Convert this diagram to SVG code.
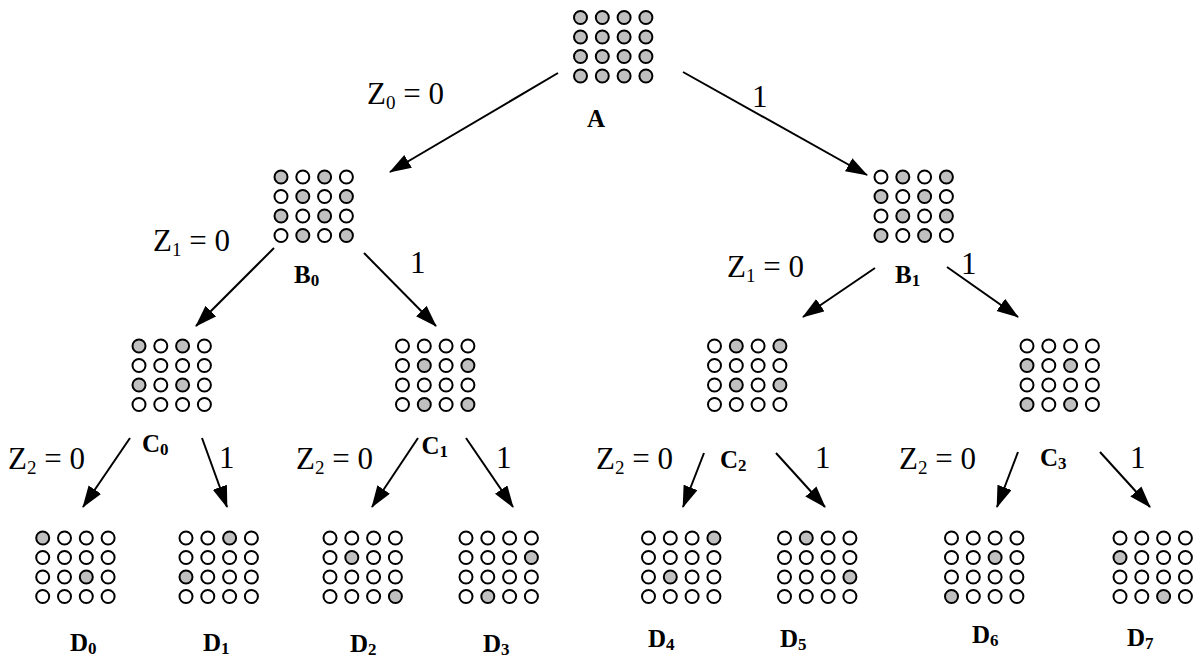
<svg xmlns="http://www.w3.org/2000/svg" width="1197" height="658" viewBox="0 0 1197 658">
<style>
.w{fill:#ffffff;stroke:#000;stroke-width:2}
.g{fill:#c0c0c0;stroke:#000;stroke-width:2}
.nl{font-family:"Liberation Serif","Times New Roman",serif;font-weight:bold;font-size:25px;fill:#000}
.nl .s{font-size:17px}
.el{font-family:"Liberation Serif","Times New Roman",serif;font-size:31px;fill:#000}
.el .s{font-size:19px}
.cn line{stroke:#000;stroke-width:2;marker-end:url(#ah)}
</style>
<defs>
<marker id="ah" markerUnits="userSpaceOnUse" markerWidth="24" markerHeight="16" refX="21" refY="7.5" orient="auto">
<path d="M0,0 L22,7.5 L0,15 Z" fill="#000"/>
</marker>
<circle id="cw" r="6.5" class="w"/>
<circle id="cg" r="6.5" class="g"/>
</defs>
<rect width="1197" height="658" fill="#fff"/>

<g id="connectors" class="cn">
<line x1="558" y1="73" x2="390" y2="172"/>
<line x1="683" y1="72" x2="867" y2="175"/>
<line x1="274" y1="248" x2="196" y2="326"/>
<line x1="364" y1="253" x2="436" y2="326"/>
<line x1="875" y1="268" x2="803" y2="317"/>
<line x1="947" y1="267" x2="1018" y2="317"/>
<line x1="130" y1="438" x2="83" y2="507"/>
<line x1="202" y1="438" x2="227" y2="507"/>
<line x1="418" y1="438" x2="372" y2="507"/>
<line x1="466" y1="438" x2="513" y2="507"/>
<line x1="704" y1="453" x2="683" y2="507"/>
<line x1="776" y1="453" x2="825" y2="507"/>
<line x1="1018" y1="452" x2="997" y2="507"/>
<line x1="1100" y1="452" x2="1150" y2="507"/>
</g>

<g id="edge-labels">
<text class="el" x="367" y="104">Z<tspan class="s" dy="5">0</tspan><tspan dy="-5"> = 0</tspan></text>
<text class="el" x="752" y="107">1</text>
<text class="el" x="153" y="251">Z<tspan class="s" dy="5">1</tspan><tspan dy="-5"> = 0</tspan></text>
<text class="el" x="410" y="273">1</text>
<text class="el" x="727" y="277">Z<tspan class="s" dy="5">1</tspan><tspan dy="-5"> = 0</tspan></text>
<text class="el" x="961" y="274">1</text>
<text class="el" x="8" y="469">Z<tspan class="s" dy="5">2</tspan><tspan dy="-5"> = 0</tspan></text>
<text class="el" x="296" y="469">Z<tspan class="s" dy="5">2</tspan><tspan dy="-5"> = 0</tspan></text>
<text class="el" x="596" y="469">Z<tspan class="s" dy="5">2</tspan><tspan dy="-5"> = 0</tspan></text>
<text class="el" x="899" y="469">Z<tspan class="s" dy="5">2</tspan><tspan dy="-5"> = 0</tspan></text>
<text class="el" x="219" y="468">1</text>
<text class="el" x="496" y="468">1</text>
<text class="el" x="815" y="468">1</text>
<text class="el" x="1130" y="468">1</text>
</g>

<g id="A" transform="translate(580.5,17.5)">
<use href="#cg" x="0" y="0"/><use href="#cg" x="21.8" y="0"/><use href="#cg" x="43.6" y="0"/><use href="#cg" x="65.4" y="0"/>
<use href="#cg" x="0" y="19.5"/><use href="#cg" x="21.8" y="19.5"/><use href="#cg" x="43.6" y="19.5"/><use href="#cg" x="65.4" y="19.5"/>
<use href="#cg" x="0" y="39"/><use href="#cg" x="21.8" y="39"/><use href="#cg" x="43.6" y="39"/><use href="#cg" x="65.4" y="39"/>
<use href="#cg" x="0" y="58.5"/><use href="#cg" x="21.8" y="58.5"/><use href="#cg" x="43.6" y="58.5"/><use href="#cg" x="65.4" y="58.5"/>
<text class="nl" x="15.5" y="109.5" text-anchor="middle">A</text>
</g>

<g id="B0" transform="translate(281,177)">
<use href="#cg" x="0" y="0"/><use href="#cw" x="21.8" y="0"/><use href="#cg" x="43.6" y="0"/><use href="#cw" x="65.4" y="0"/>
<use href="#cw" x="0" y="19.5"/><use href="#cg" x="21.8" y="19.5"/><use href="#cw" x="43.6" y="19.5"/><use href="#cg" x="65.4" y="19.5"/>
<use href="#cg" x="0" y="39"/><use href="#cw" x="21.8" y="39"/><use href="#cg" x="43.6" y="39"/><use href="#cw" x="65.4" y="39"/>
<use href="#cw" x="0" y="58.5"/><use href="#cg" x="21.8" y="58.5"/><use href="#cw" x="43.6" y="58.5"/><use href="#cg" x="65.4" y="58.5"/>
<text class="nl" x="13" y="106">B<tspan class="s" dy="3">0</tspan></text>
</g>

<g id="B1" transform="translate(881,177)">
<use href="#cw" x="0" y="0"/><use href="#cg" x="21.8" y="0"/><use href="#cw" x="43.6" y="0"/><use href="#cg" x="65.4" y="0"/>
<use href="#cg" x="0" y="19.5"/><use href="#cw" x="21.8" y="19.5"/><use href="#cg" x="43.6" y="19.5"/><use href="#cw" x="65.4" y="19.5"/>
<use href="#cw" x="0" y="39"/><use href="#cg" x="21.8" y="39"/><use href="#cw" x="43.6" y="39"/><use href="#cg" x="65.4" y="39"/>
<use href="#cg" x="0" y="58.5"/><use href="#cw" x="21.8" y="58.5"/><use href="#cg" x="43.6" y="58.5"/><use href="#cw" x="65.4" y="58.5"/>
<text class="nl" x="14" y="106">B<tspan class="s" dy="3">1</tspan></text>
</g>

<g id="C0" transform="translate(139,346)">
<use href="#cg" x="0" y="0"/><use href="#cw" x="21.8" y="0"/><use href="#cg" x="43.6" y="0"/><use href="#cw" x="65.4" y="0"/>
<use href="#cw" x="0" y="19.5"/><use href="#cw" x="21.8" y="19.5"/><use href="#cw" x="43.6" y="19.5"/><use href="#cw" x="65.4" y="19.5"/>
<use href="#cg" x="0" y="39"/><use href="#cw" x="21.8" y="39"/><use href="#cg" x="43.6" y="39"/><use href="#cw" x="65.4" y="39"/>
<use href="#cw" x="0" y="58.5"/><use href="#cw" x="21.8" y="58.5"/><use href="#cw" x="43.6" y="58.5"/><use href="#cw" x="65.4" y="58.5"/>
<text class="nl" x="3" y="106">C<tspan class="s" dy="3">0</tspan></text>
</g>

<g id="C1" transform="translate(402.5,346)">
<use href="#cw" x="0" y="0"/><use href="#cw" x="21.8" y="0"/><use href="#cw" x="43.6" y="0"/><use href="#cw" x="65.4" y="0"/>
<use href="#cw" x="0" y="19.5"/><use href="#cg" x="21.8" y="19.5"/><use href="#cw" x="43.6" y="19.5"/><use href="#cg" x="65.4" y="19.5"/>
<use href="#cw" x="0" y="39"/><use href="#cw" x="21.8" y="39"/><use href="#cw" x="43.6" y="39"/><use href="#cw" x="65.4" y="39"/>
<use href="#cw" x="0" y="58.5"/><use href="#cg" x="21.8" y="58.5"/><use href="#cw" x="43.6" y="58.5"/><use href="#cg" x="65.4" y="58.5"/>
<text class="nl" x="19" y="108">C<tspan class="s" dy="3">1</tspan></text>
</g>

<g id="C2" transform="translate(714.5,346)">
<use href="#cw" x="0" y="0"/><use href="#cg" x="21.8" y="0"/><use href="#cw" x="43.6" y="0"/><use href="#cg" x="65.4" y="0"/>
<use href="#cw" x="0" y="19.5"/><use href="#cw" x="21.8" y="19.5"/><use href="#cw" x="43.6" y="19.5"/><use href="#cw" x="65.4" y="19.5"/>
<use href="#cw" x="0" y="39"/><use href="#cg" x="21.8" y="39"/><use href="#cw" x="43.6" y="39"/><use href="#cg" x="65.4" y="39"/>
<use href="#cw" x="0" y="58.5"/><use href="#cw" x="21.8" y="58.5"/><use href="#cw" x="43.6" y="58.5"/><use href="#cw" x="65.4" y="58.5"/>
<text class="nl" x="5.5" y="122">C<tspan class="s" dy="3">2</tspan></text>
</g>

<g id="C3" transform="translate(1027,346)">
<use href="#cw" x="0" y="0"/><use href="#cw" x="21.8" y="0"/><use href="#cw" x="43.6" y="0"/><use href="#cw" x="65.4" y="0"/>
<use href="#cg" x="0" y="19.5"/><use href="#cw" x="21.8" y="19.5"/><use href="#cg" x="43.6" y="19.5"/><use href="#cw" x="65.4" y="19.5"/>
<use href="#cw" x="0" y="39"/><use href="#cw" x="21.8" y="39"/><use href="#cw" x="43.6" y="39"/><use href="#cw" x="65.4" y="39"/>
<use href="#cg" x="0" y="58.5"/><use href="#cw" x="21.8" y="58.5"/><use href="#cg" x="43.6" y="58.5"/><use href="#cw" x="65.4" y="58.5"/>
<text class="nl" x="13" y="120">C<tspan class="s" dy="3">3</tspan></text>
</g>

<g id="D0" transform="translate(42.7,538)">
<use href="#cg" x="0" y="0"/><use href="#cw" x="21.8" y="0"/><use href="#cw" x="43.6" y="0"/><use href="#cw" x="65.4" y="0"/>
<use href="#cw" x="0" y="19.5"/><use href="#cw" x="21.8" y="19.5"/><use href="#cw" x="43.6" y="19.5"/><use href="#cw" x="65.4" y="19.5"/>
<use href="#cw" x="0" y="39"/><use href="#cw" x="21.8" y="39"/><use href="#cg" x="43.6" y="39"/><use href="#cw" x="65.4" y="39"/>
<use href="#cw" x="0" y="58.5"/><use href="#cw" x="21.8" y="58.5"/><use href="#cw" x="43.6" y="58.5"/><use href="#cw" x="65.4" y="58.5"/>
<text class="nl" x="27.3" y="113">D<tspan class="s" dy="3">0</tspan></text>
</g>

<g id="D1" transform="translate(186,538)">
<use href="#cw" x="0" y="0"/><use href="#cw" x="21.8" y="0"/><use href="#cg" x="43.6" y="0"/><use href="#cw" x="65.4" y="0"/>
<use href="#cw" x="0" y="19.5"/><use href="#cw" x="21.8" y="19.5"/><use href="#cw" x="43.6" y="19.5"/><use href="#cw" x="65.4" y="19.5"/>
<use href="#cg" x="0" y="39"/><use href="#cw" x="21.8" y="39"/><use href="#cw" x="43.6" y="39"/><use href="#cw" x="65.4" y="39"/>
<use href="#cw" x="0" y="58.5"/><use href="#cw" x="21.8" y="58.5"/><use href="#cw" x="43.6" y="58.5"/><use href="#cw" x="65.4" y="58.5"/>
<text class="nl" x="17" y="113">D<tspan class="s" dy="3">1</tspan></text>
</g>

<g id="D2" transform="translate(330,538)">
<use href="#cw" x="0" y="0"/><use href="#cw" x="21.8" y="0"/><use href="#cw" x="43.6" y="0"/><use href="#cw" x="65.4" y="0"/>
<use href="#cw" x="0" y="19.5"/><use href="#cg" x="21.8" y="19.5"/><use href="#cw" x="43.6" y="19.5"/><use href="#cw" x="65.4" y="19.5"/>
<use href="#cw" x="0" y="39"/><use href="#cw" x="21.8" y="39"/><use href="#cw" x="43.6" y="39"/><use href="#cw" x="65.4" y="39"/>
<use href="#cw" x="0" y="58.5"/><use href="#cw" x="21.8" y="58.5"/><use href="#cw" x="43.6" y="58.5"/><use href="#cg" x="65.4" y="58.5"/>
<text class="nl" x="20" y="114">D<tspan class="s" dy="3">2</tspan></text>
</g>

<g id="D3" transform="translate(466,538)">
<use href="#cw" x="0" y="0"/><use href="#cw" x="21.8" y="0"/><use href="#cw" x="43.6" y="0"/><use href="#cw" x="65.4" y="0"/>
<use href="#cw" x="0" y="19.5"/><use href="#cw" x="21.8" y="19.5"/><use href="#cw" x="43.6" y="19.5"/><use href="#cg" x="65.4" y="19.5"/>
<use href="#cw" x="0" y="39"/><use href="#cw" x="21.8" y="39"/><use href="#cw" x="43.6" y="39"/><use href="#cw" x="65.4" y="39"/>
<use href="#cw" x="0" y="58.5"/><use href="#cg" x="21.8" y="58.5"/><use href="#cw" x="43.6" y="58.5"/><use href="#cw" x="65.4" y="58.5"/>
<text class="nl" x="17" y="114">D<tspan class="s" dy="3">3</tspan></text>
</g>

<g id="D4" transform="translate(648.5,538)">
<use href="#cw" x="0" y="0"/><use href="#cw" x="21.8" y="0"/><use href="#cw" x="43.6" y="0"/><use href="#cg" x="65.4" y="0"/>
<use href="#cw" x="0" y="19.5"/><use href="#cw" x="21.8" y="19.5"/><use href="#cw" x="43.6" y="19.5"/><use href="#cw" x="65.4" y="19.5"/>
<use href="#cw" x="0" y="39"/><use href="#cg" x="21.8" y="39"/><use href="#cw" x="43.6" y="39"/><use href="#cw" x="65.4" y="39"/>
<use href="#cw" x="0" y="58.5"/><use href="#cw" x="21.8" y="58.5"/><use href="#cw" x="43.6" y="58.5"/><use href="#cw" x="65.4" y="58.5"/>
<text class="nl" x="-0.5" y="109">D<tspan class="s" dy="3">4</tspan></text>
</g>

<g id="D5" transform="translate(784.5,538)">
<use href="#cw" x="0" y="0"/><use href="#cg" x="21.8" y="0"/><use href="#cw" x="43.6" y="0"/><use href="#cw" x="65.4" y="0"/>
<use href="#cw" x="0" y="19.5"/><use href="#cw" x="21.8" y="19.5"/><use href="#cw" x="43.6" y="19.5"/><use href="#cw" x="65.4" y="19.5"/>
<use href="#cw" x="0" y="39"/><use href="#cw" x="21.8" y="39"/><use href="#cw" x="43.6" y="39"/><use href="#cg" x="65.4" y="39"/>
<use href="#cw" x="0" y="58.5"/><use href="#cw" x="21.8" y="58.5"/><use href="#cw" x="43.6" y="58.5"/><use href="#cw" x="65.4" y="58.5"/>
<text class="nl" x="-4.5" y="109">D<tspan class="s" dy="3">5</tspan></text>
</g>

<g id="D6" transform="translate(951.5,538)">
<use href="#cw" x="0" y="0"/><use href="#cw" x="21.8" y="0"/><use href="#cw" x="43.6" y="0"/><use href="#cw" x="65.4" y="0"/>
<use href="#cw" x="0" y="19.5"/><use href="#cw" x="21.8" y="19.5"/><use href="#cg" x="43.6" y="19.5"/><use href="#cw" x="65.4" y="19.5"/>
<use href="#cw" x="0" y="39"/><use href="#cw" x="21.8" y="39"/><use href="#cw" x="43.6" y="39"/><use href="#cw" x="65.4" y="39"/>
<use href="#cg" x="0" y="58.5"/><use href="#cw" x="21.8" y="58.5"/><use href="#cw" x="43.6" y="58.5"/><use href="#cw" x="65.4" y="58.5"/>
<text class="nl" x="20.5" y="105">D<tspan class="s" dy="3">6</tspan></text>
</g>

<g id="D7" transform="translate(1120,538)">
<use href="#cw" x="0" y="0"/><use href="#cw" x="21.8" y="0"/><use href="#cw" x="43.6" y="0"/><use href="#cw" x="65.4" y="0"/>
<use href="#cg" x="0" y="19.5"/><use href="#cw" x="21.8" y="19.5"/><use href="#cw" x="43.6" y="19.5"/><use href="#cw" x="65.4" y="19.5"/>
<use href="#cw" x="0" y="39"/><use href="#cw" x="21.8" y="39"/><use href="#cw" x="43.6" y="39"/><use href="#cw" x="65.4" y="39"/>
<use href="#cw" x="0" y="58.5"/><use href="#cw" x="21.8" y="58.5"/><use href="#cg" x="43.6" y="58.5"/><use href="#cw" x="65.4" y="58.5"/>
<text class="nl" x="7" y="108">D<tspan class="s" dy="3">7</tspan></text>
</g>
</svg>
